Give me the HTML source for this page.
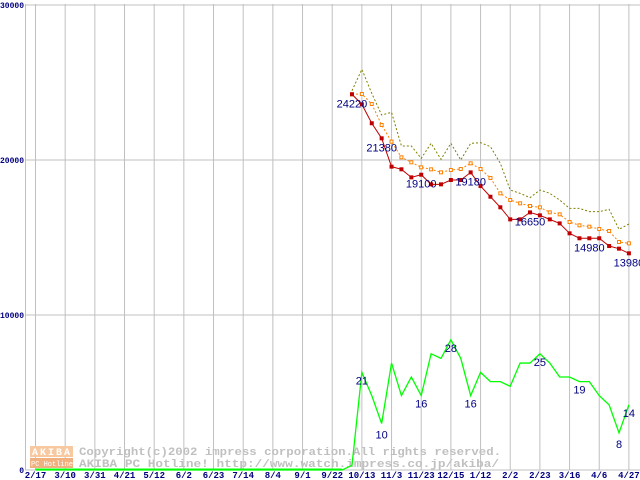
<!DOCTYPE html>
<html><head><meta charset="utf-8"><style>
body{margin:0;background:#fff;}
svg{display:block;font-family:"Liberation Mono","DejaVu Sans Mono",monospace;}
</style></head><body>
<svg id="chart" width="640" height="480" viewBox="0 0 640 480" xmlns="http://www.w3.org/2000/svg">
<g id="grid"></g>
<g id="wm">
  <rect x="30" y="446" width="43" height="11" fill="#f8c8a0"/>
  <text x="32" y="455" font-size="10" fill="#fff" font-weight="bold" letter-spacing="2">AKIBA</text>
  <rect x="30" y="458" width="43" height="10" fill="#f0b080"/>
  <text x="31" y="466" font-size="7" fill="#fff">PC Hotline!</text>
  <text x="79" y="455" font-size="11" fill="#c0c0c0" font-weight="bold" textLength="422" lengthAdjust="spacingAndGlyphs">Copyright(c)2002 impress corporation.All rights reserved.</text>
  <text x="79" y="467" font-size="11" fill="#c0c0c0" font-weight="bold" textLength="420" lengthAdjust="spacingAndGlyphs">AKIBA PC Hotline!  http://www.watch.impress.co.jp/akiba/</text>
</g>
<g id="series"></g>
<g id="labels"></g>
</svg>
<script>
const dateLabels=["2/17","3/10","3/31","4/21","5/12","6/2","6/23","7/14","8/4","9/1","9/22","10/13","11/3","11/23","12/15","1/12","2/2","2/23","3/16","4/6","4/27"];
const yTicks=[0,10000,20000,30000];
const priceStart=32;
const priceMin=[24240,23590,22370,21400,19570,19400,18880,19050,18430,18430,18710,18710,19200,18320,17630,16950,16170,16170,16620,16430,16170,15910,15270,14950,14950,14950,14450,14280,13980];
const priceAvg=[24240,24258,23613,22258,21183,20172,19850,19527,19398,19204,19355,19419,19785,19419,18839,17849,17419,17204,17032,16946,16624,16495,16000,15785,15699,15548,15419,14710,14624];
const priceMax=[24473,25849,24301,22903,23075,20903,20903,20107,21075,20043,21075,20000,21075,21118,20860,19785,18064,17849,17570,18064,17849,17419,16882,16882,16667,16667,16817,15527,15871];
const shopCount=[0,0,0,0,0,0,0,0,0,0,0,0,0,0,0,0,0,0,0,0,0,0,0,0,0,0,0,0,0,0,0,0,1,21,16,10,23,16,20,16,25,24,28,24,16,21,19,19,18,23,23,25,23,20,20,19,19,16,14,8,14];
const priceLabels=[[32,"24220"],[35,"21380"],[39,"19100"],[44,"19180"],[50,"16650"],[56,"14980"],[60,"13980"]];
const countLabels=[[33,"21"],[35,"10"],[39,"16"],[42,"28"],[44,"16"],[51,"25"],[55,"19"],[59,"8"],[60,"14"]];

const NS="http://www.w3.org/2000/svg";
const X=w=>35.5+w*9.89;
const Y=v=>470-v*155/10000;
const YC=c=>470-c*4.65;
function mk(tag,attrs,parent){const e=document.createElementNS(NS,tag);for(const k in attrs)e.setAttribute(k,attrs[k]);parent.appendChild(e);return e;}
const grid=document.getElementById('grid'),ser=document.getElementById('series'),lab=document.getElementById('labels');

dateLabels.forEach((d,i)=>{
  const x=X(i*3);
  const l=mk('line',{x1:x,y1:4,x2:x,y2:470,stroke:'#c0c0c0','stroke-width':1},grid);
  
  
  const t=mk('text',{x:x,y:478,'font-size':9,fill:'#000080','text-anchor':'middle','font-weight':'bold'},grid);
  t.textContent=d;
  
  
});
yTicks.forEach(v=>{
  const y=Y(v);
  const l=mk('line',{x1:25.5,y1:y,x2:640,y2:y,stroke:'#c0c0c0','stroke-width':1},grid);
  
  
  const t=mk('text',{x:24,y:y+3,'font-size':8,fill:'#000080','text-anchor':'end','font-weight':'bold'},grid);
  t.textContent=String(v);
  
  
});
const ax=mk('line',{x1:25.5,y1:4,x2:25.5,y2:470,stroke:'#c0c0c0'},grid);



function poly(arr,start,yf,attrs,name){
  const pts=arr.map((v,i)=>X(start+i)+','+yf(v)).join(' ');
  const p=mk('polyline',Object.assign({points:pts,fill:'none'},attrs),ser);
  
  
}
poly(priceMax,priceStart,Y,{stroke:'#808000','stroke-width':1,'stroke-dasharray':'2,2'},'max-price-line');
poly(priceAvg,priceStart,Y,{stroke:'#ff8000','stroke-width':1,'stroke-dasharray':'2,2'},'avg-price-line');
priceAvg.forEach((v,i)=>{
  const r=mk('rect',{x:X(priceStart+i)-1.5,y:Y(v)-1.5,width:3,height:3,fill:'#fff',stroke:'#ff8000','stroke-width':1},ser);
  
  
});
poly(priceMin,priceStart,Y,{stroke:'#c00000','stroke-width':1},'min-price-line');
priceMin.forEach((v,i)=>{
  const r=mk('rect',{x:X(priceStart+i)-2,y:Y(v)-2,width:4,height:4,fill:'#c00000'},ser);
  
  
});
poly(shopCount,0,YC,{stroke:'#00ff00','stroke-width':1.3},'shop-count-line');
const base=mk('line',{x1:X(0),y1:469.5,x2:X(31),y2:469.5,stroke:'#00ff00','stroke-width':2},ser);



priceLabels.forEach(([w,s])=>{
  const i=w-priceStart;
  const t=mk('text',{x:X(w),y:Y(priceMin[i])+13,'font-size':11,fill:'#000080','text-anchor':'middle',style:'font-family:"Liberation Sans",sans-serif'},lab);
  t.textContent=s;
  
  
});
countLabels.forEach(([w,s])=>{
  const t=mk('text',{x:X(w),y:YC(shopCount[w])+(w===59?15:(w===35?15:12)),'font-size':11,fill:'#000080','text-anchor':'middle',style:'font-family:"Liberation Sans",sans-serif'},lab);
  t.textContent=s;
  
  
});
</script>
</body></html>
